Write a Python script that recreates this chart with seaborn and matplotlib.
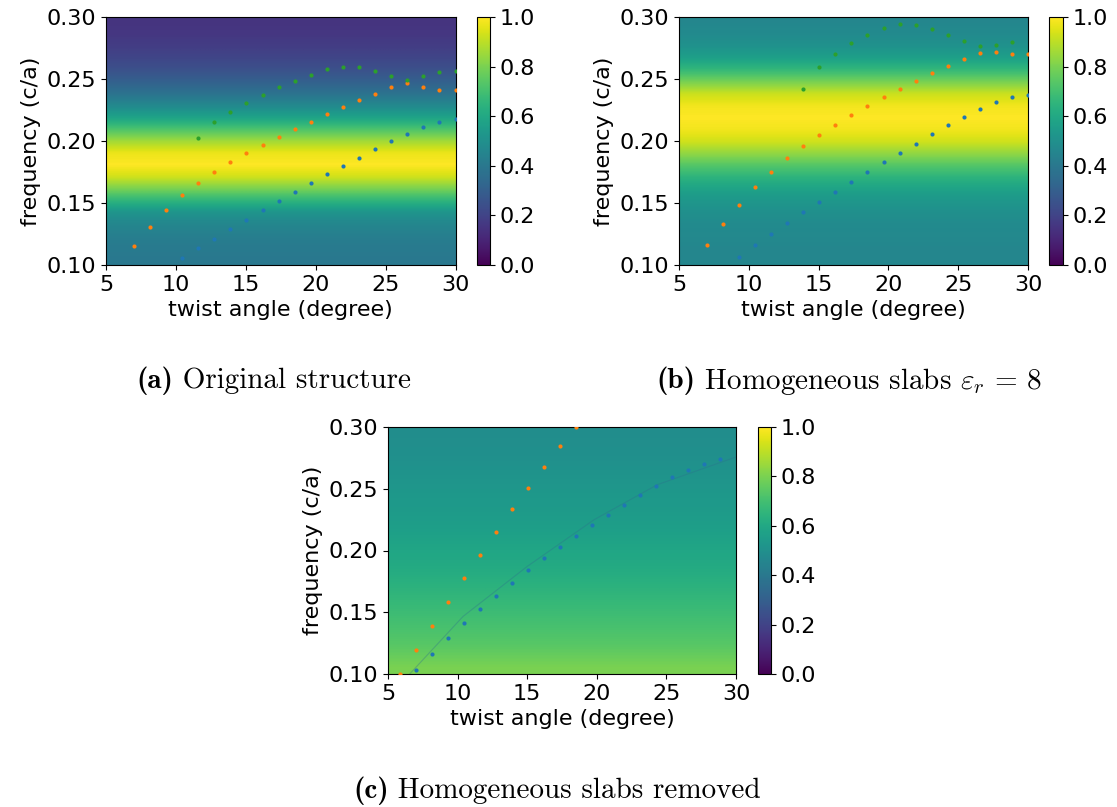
import numpy as np
import seaborn as sns
import matplotlib
import matplotlib.pyplot as plt

matplotlib.rcParams['mathtext.fontset'] = 'cm'

# twist angles of the sampled structures (degree)
angles = [5.85, 7.0, 8.15, 9.3, 10.45, 11.6, 12.75, 13.9, 15.05, 16.2, 17.35,
          18.5, 19.65, 20.8, 21.95, 23.1, 24.25, 25.4, 26.55, 27.7, 28.85, 30.0]

# background transmission profile vs frequency (same along angle)
freq_grid = [0.10, 0.11, 0.12, 0.13, 0.14, 0.15, 0.16, 0.17, 0.18, 0.19, 0.20,
             0.21, 0.22, 0.23, 0.24, 0.25, 0.26, 0.27, 0.28, 0.29, 0.30]
bg_a = [0.40, 0.41, 0.43, 0.46, 0.52, 0.66, 0.80, 0.93, 1.00, 0.97, 0.86,
        0.72, 0.58, 0.47, 0.38, 0.31, 0.25, 0.21, 0.18, 0.16, 0.15]
bg_b = [0.46, 0.46, 0.47, 0.48, 0.50, 0.53, 0.58, 0.65, 0.74, 0.84, 0.93,
        0.98, 1.00, 0.98, 0.92, 0.80, 0.67, 0.57, 0.51, 0.48, 0.46]
bg_c = [0.80, 0.77, 0.74, 0.72, 0.70, 0.68, 0.66, 0.64, 0.62, 0.605, 0.59,
        0.575, 0.56, 0.55, 0.54, 0.53, 0.52, 0.51, 0.50, 0.495, 0.49]

# (a) original structure
a_blue = [0.1059, 0.1137, 0.1212, 0.129, 0.1365, 0.1441, 0.1516, 0.1589, 0.1659,
          0.1731, 0.1798, 0.1865, 0.1935, 0.1997, 0.2059, 0.2113, 0.2156, 0.2177]
a_orange = [0.115, 0.1306, 0.1444, 0.1562, 0.1661, 0.175, 0.1831, 0.19, 0.197,
            0.2035, 0.2097, 0.2156, 0.2215, 0.2272, 0.2328, 0.2382, 0.2435,
            0.2468, 0.2438, 0.2411, 0.241]
a_green = [0.2027, 0.2156, 0.2237, 0.2306, 0.2374, 0.2433, 0.2487, 0.2535, 0.2578,
           0.2599, 0.2594, 0.2562, 0.2524, 0.2494, 0.2527, 0.2556, 0.2567]

# (b) homogeneous slabs eps_r = 8
b_blue = [0.1067, 0.1161, 0.1253, 0.1341, 0.1427, 0.1508, 0.1589, 0.1672, 0.175,
          0.1828, 0.1906, 0.1978, 0.2054, 0.2127, 0.2191, 0.2256, 0.2312, 0.2355,
          0.2374]
b_orange = [0.1161, 0.1331, 0.1487, 0.1627, 0.175, 0.186, 0.196, 0.2051, 0.2132,
            0.221, 0.2282, 0.2355, 0.2419, 0.2484, 0.2546, 0.2605, 0.2659, 0.271,
            0.2718, 0.2699, 0.2699]
b_green = [0.2422, 0.2597, 0.2702, 0.2788, 0.2857, 0.2914, 0.2944, 0.2933,
           0.2901, 0.2855, 0.2809, 0.2769, 0.2772, 0.2801]

# (c) homogeneous slabs removed
c_blue = [0.1032, 0.1164, 0.1292, 0.1413, 0.1523, 0.1634, 0.1737, 0.1839, 0.1936,
          0.2025, 0.2117, 0.2203, 0.229, 0.2371, 0.2449, 0.2525, 0.2592, 0.2652,
          0.2703, 0.2741]
c_orange = [0.0997, 0.1194, 0.1391, 0.1583, 0.1774, 0.1964, 0.215, 0.2333,
            0.2509, 0.2679, 0.2843, 0.300]
ridge_angle = [6.56, 10.39, 15.0, 19.8, 24.35, 30.0]
ridge_freq = [0.10, 0.1466, 0.1871, 0.2249, 0.2533, 0.2757]

W, H = 1117, 807
fig = plt.figure(figsize=(W / 100, H / 100), dpi=100)

def box(x0, x1, y0, y1):
    return [x0 / W, 1 - y1 / H, (x1 - x0) / W, (y1 - y0) / H]

fs = 16
panels = [
    (box(106, 455.5, 17, 265), box(477, 490, 17, 265), bg_a,
     [(a_blue, 4), (a_orange, 1), (a_green, 5)]),
    (box(679, 1028, 17, 265), box(1049, 1062.5, 17, 265), bg_b,
     [(b_blue, 3), (b_orange, 1), (b_green, 7)]),
    (box(388, 736, 427, 674), box(758, 771, 427, 674), bg_c,
     [(c_blue, 1), (c_orange, 0)]),
]
colors = ['tab:blue', 'tab:orange', 'tab:green']

for pos, cpos, bg, bands in panels:
    ax = fig.add_axes(pos)
    cax = fig.add_axes(cpos)
    img = np.tile(np.array(bg)[:, None], (1, 2))
    im = ax.imshow(img, extent=[5, 30, 0.10, 0.30], origin='lower', aspect='auto',
                   cmap='viridis', vmin=0, vmax=1, interpolation='bilinear')
    if bg is bg_c:
        sns.lineplot(x=ridge_angle, y=ridge_freq, ax=ax, color='#2d6f8e',
                     lw=0.8, alpha=0.35)
    for (vals, start), col in zip(bands, colors):
        sns.scatterplot(x=angles[start:start + len(vals)], y=vals, ax=ax,
                        color=col, s=9, linewidth=0, zorder=3)
    ax.set_xlim(5, 30)
    ax.set_ylim(0.10, 0.30)
    ax.set_xticks([5, 10, 15, 20, 25, 30])
    ax.set_yticks([0.10, 0.15, 0.20, 0.25, 0.30])
    ax.set_yticklabels(['0.10', '0.15', '0.20', '0.25', '0.30'])
    ax.tick_params(labelsize=fs)
    ax.set_xlabel('twist angle (degree)', fontsize=fs)
    ax.set_ylabel('frequency (c/a)', fontsize=fs)
    cb = fig.colorbar(im, cax=cax)
    cb.set_ticks([0.0, 0.2, 0.4, 0.6, 0.8, 1.0])
    cb.ax.tick_params(labelsize=fs)

# sub-figure captions: bold label + roman text, centred as a whole
renderer = fig.canvas.get_renderer()
cap_fs = 21
captions = [('(a)', ' Original structure', 274, 381),
            ('(b)', r' Homogeneous slabs $\varepsilon_r\,=\,8$', 849, 381),
            ('(c)', ' Homogeneous slabs removed', 557, 791)]
for lab, txt, cx, cy in captions:
    t1 = fig.text(0, 1 - cy / H, lab, fontsize=cap_fs, family='cmb10', va='center')
    t2 = fig.text(0, 1 - cy / H, txt, fontsize=cap_fs, family='cmr10', va='center')
    w1 = t1.get_window_extent(renderer).width
    w2 = t2.get_window_extent(renderer).width
    x0 = cx - (w1 + w2) / 2
    t1.set_x(x0 / W)
    t2.set_x((x0 + w1) / W)

fig.savefig('out.png', dpi=100)
